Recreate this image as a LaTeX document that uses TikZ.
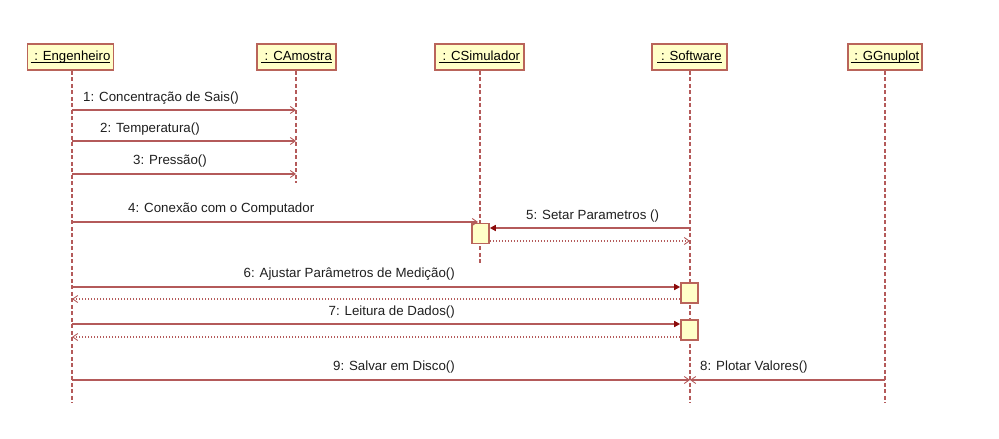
\documentclass[tikz,border=0pt]{standalone}
\usepackage{fontspec}
\setmainfont{Liberation Sans}
\usetikzlibrary{arrows.meta}
\definecolor{umlline}{RGB}{180,90,90}
\definecolor{umlbox}{RGB}{185,100,90}
\definecolor{umlfill}{RGB}{255,255,200}
\definecolor{umlhead}{RGB}{140,10,10}
\newcommand{\objname}[1]{\underline{\smash{\ #1}}}
\begin{document}
\begin{tikzpicture}[x=1pt,y=-1pt,
  obj/.style={draw=umlbox,fill=umlfill,line width=1.8pt,minimum height=26pt,inner sep=0pt,text height=9.5pt,text depth=2.5pt,font=\fontsize{13.2}{15}\selectfont},
  life/.style={draw=umlline,line width=1.6pt,dash pattern=on 4pt off 2.5pt},
  act/.style={draw=umlbox,fill=umlfill,line width=1.6pt,minimum width=17pt,minimum height=20pt,inner sep=0pt},
  msg/.style={draw=umlline,line width=1.4pt,-{Straight Barb[length=5pt,width=7pt,line width=0.9pt]}},
  call/.style={draw=umlline,line width=1.4pt,-{Triangle[length=6pt,width=6pt,color=umlhead,fill=umlhead]}},
  ret/.style={draw=umlline,line width=1.2pt,dash pattern=on 1pt off 2pt,-{Straight Barb[length=5pt,width=7pt,line width=0.9pt,sep=0pt]}},
  lbl/.style={font=\fontsize{13.3}{15}\selectfont,inner sep=0pt,text=black!88}]
\useasboundingbox (0,0) rectangle (999,439);
% objects
\node[obj,minimum width=86pt] (eng) at (70.5,57) {\objname{: Engenheiro}};
\node[obj,minimum width=79pt] (amo) at (296.5,57) {\objname{: CAmostra}};
\node[obj,minimum width=89pt] (sim) at (479.5,57) {\objname{: CSimulador}};
\node[obj,minimum width=75pt] (sof) at (689.5,57) {\objname{: Software}};
\node[obj,minimum width=74pt] (gnu) at (885,57) {\objname{: GGnuplot}};
% lifeline ends
\coordinate (engE) at (72,403);
\coordinate (amoE) at (296,183);
\coordinate (simE) at (480,263);
\coordinate (sofE) at (690,403);
\coordinate (gnuE) at (885,403);
\draw[life] (eng.south -| engE) -- (engE);
\draw[life] (amo.south -| amoE) -- (amoE);
\draw[life] (sim.south -| simE) -- (simE);
\draw[life] (sof.south -| sofE) -- (sofE);
\draw[life] (gnu.south -| gnuE) -- (gnuE);
% activations
\node[act] (a1) at (480.5,233.5) {};
\node[act] (a2) at (689.5,293) {};
\node[act] (a3) at (689.5,330) {};
% messages 1-3
\coordinate (e1) at (72,110); \coordinate (m1) at (296,110);
\coordinate (e2) at (72,141); \coordinate (m2) at (296,141);
\coordinate (e3) at (72,174); \coordinate (m3) at (296,174);
\draw[msg] (e1) -- (m1);
\draw[msg] (e2) -- (m2);
\draw[msg] (e3) -- (m3);
\node[lbl,anchor=base west] (l1) at (83,101) {1: Concentração de Sais()};
\node[lbl,anchor=base west] (l2) at (100,132) {2: Temperatura()};
\node[lbl,anchor=base west] (l3) at (133,164) {3: Pressão()};
% message 4
\coordinate (e4) at (72,222);
\coordinate (t4) at (478,222);
\draw[msg] (e4) -- (t4);
\node[lbl,anchor=base west] (l4) at (128,212) {4: Conexão com o Computador};
% message 5
\coordinate (s5) at (690,228);
\draw[call] (s5) -- (s5 -| a1.east);
\node[lbl,anchor=base west] (l5) at (526,219) {5: Setar Parametros ()};
\coordinate (r5) at (690,241);
\draw[ret] (r5 -| a1.east) -- (r5);
% message 6
\coordinate (e6) at (72,287);
\draw[call] (e6) -- (e6 -| a2.west);
\node[lbl,anchor=base east] (l6) at (455,277) {6: Ajustar Parâmetros de Medição()};
\coordinate (r6) at (72,299);
\draw[ret] (r6 -| a2.west) -- (r6);
% message 7
\coordinate (e7) at (72,324);
\draw[call] (e7) -- (e7 -| a3.west);
\node[lbl,anchor=base east] (l7) at (455,315) {7: Leitura de Dados()};
\coordinate (r7) at (72,337);
\draw[ret] (r7 -| a3.west) -- (r7);
% messages 8 and 9
\coordinate (e9) at (72,380);
\coordinate (s9) at (690,380);
\coordinate (g8) at (885,380);
\draw[msg] (e9) -- (s9);
\draw[msg] (g8) -- (s9);
\node[lbl,anchor=base east] (l9) at (455,370) {9: Salvar em Disco()};
\node[lbl,anchor=base west] (l8) at (700,370) {8: Plotar Valores()};
\end{tikzpicture}
\end{document}
